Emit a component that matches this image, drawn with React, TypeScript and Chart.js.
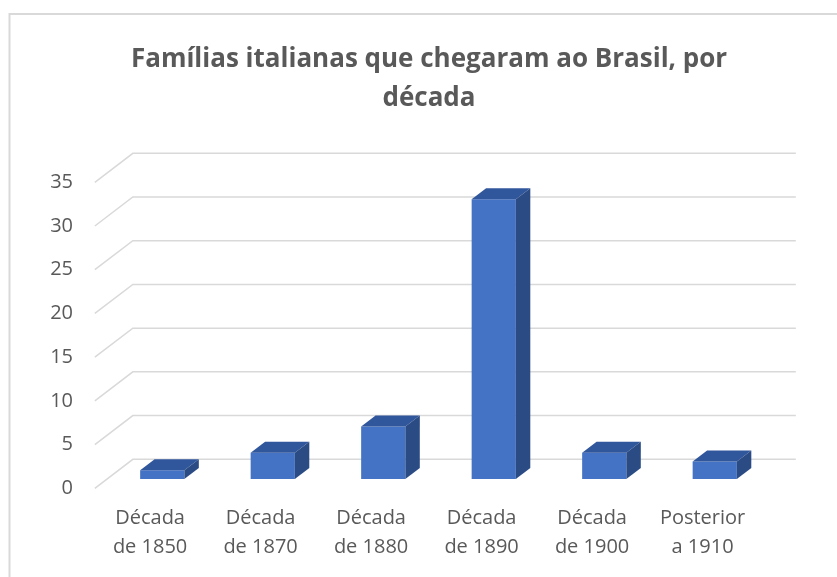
import React, { useEffect, useRef } from "react";
import { Chart, registerables } from "chart.js";

Chart.register(...registerables);

const titleLines = ["Famílias italianas que chegaram ao Brasil, por", "década"];
const categories = [
  ["Década", "de 1850"],
  ["Década", "de 1870"],
  ["Década", "de 1880"],
  ["Década", "de 1890"],
  ["Década", "de 1900"],
  ["Posterior", "a 1910"],
];
const values = [1, 3, 6, 32, 3, 2];
const yMin = 0;
const yMax = 35;
const yStep = 5;

const DEPTH_X = 38;
const DEPTH_Y = 29;
const FRONT_FRAC = 0.32;
const BAR_FRAC = 0.38;

const FRONT_COLOR = "#4472C4";
const TOP_COLOR = "#30569C";
const SIDE_COLOR = "#2B4B84";
const GRID_COLOR = "#d9d9d9";
const TEXT_COLOR = "#595959";
const FONT = '"Open Sans", "Noto Sans", sans-serif';

const threeDPlugin = {
  id: "threeD",
  beforeDatasetsDraw(chart: any) {
    const ctx = chart.ctx;
    const area = chart.chartArea;
    const ys = chart.scales.y;
    const xs = chart.scales.x;
    ctx.save();
    // frame
    ctx.strokeStyle = GRID_COLOR;
    ctx.lineWidth = 2;
    ctx.beginPath();
    ctx.moveTo(9.5, 577);
    ctx.lineTo(9.5, 14);
    ctx.lineTo(837, 14);
    ctx.stroke();

    // title
    ctx.fillStyle = TEXT_COLOR;
    ctx.font = `bold 26px ${FONT}`;
    ctx.textAlign = "center";
    ctx.textBaseline = "alphabetic";
    titleLines.forEach((t, i) => ctx.fillText(t, 429, 67 + i * 39));

    // gridlines
    const fdx = FRONT_FRAC * DEPTH_X;
    const fdy = FRONT_FRAC * DEPTH_Y;
    const bdx = (1 - FRONT_FRAC) * DEPTH_X;
    const bdy = (1 - FRONT_FRAC) * DEPTH_Y;
    ctx.strokeStyle = GRID_COLOR;
    ctx.lineWidth = 1.5;
    ys.ticks.forEach((tk: any) => {
      const y = ys.getPixelForValue(tk.value);
      ctx.beginPath();
      ctx.moveTo(area.left - fdx, y + fdy);
      ctx.lineTo(area.left + bdx, y - bdy);
      ctx.lineTo(area.right + bdx, y - bdy);
      ctx.stroke();
    });

    // y labels
    ctx.fillStyle = TEXT_COLOR;
    ctx.font = `20px ${FONT}`;
    ctx.textAlign = "right";
    ctx.textBaseline = "middle";
    ys.ticks.forEach((tk: any) => {
      const y = ys.getPixelForValue(tk.value);
      ctx.fillText(String(tk.value), 73, y + fdy);
    });

    // x labels
    ctx.textAlign = "center";
    categories.forEach((lines, i) => {
      const x = xs.getPixelForValue(i) - fdx;
      lines.forEach((l, j) => ctx.fillText(l, x, 518 + j * 29.5));
    });
    ctx.restore();
  },
  afterDatasetsDraw(chart: any) {
    const ctx = chart.ctx;
    const meta = chart.getDatasetMeta(0);
    const dx = BAR_FRAC * DEPTH_X;
    const dy = BAR_FRAC * DEPTH_Y;
    ctx.save();
    meta.data.forEach((bar: any) => {
      const { x, y, base, width } = bar.getProps(["x", "y", "base", "width"], true);
      const l = x - width / 2;
      const r = x + width / 2;
      // top face
      ctx.fillStyle = TOP_COLOR;
      ctx.beginPath();
      ctx.moveTo(l, y);
      ctx.lineTo(r, y);
      ctx.lineTo(r + dx, y - dy);
      ctx.lineTo(l + dx, y - dy);
      ctx.closePath();
      ctx.fill();
      // side face
      ctx.fillStyle = SIDE_COLOR;
      ctx.beginPath();
      ctx.moveTo(r, y);
      ctx.lineTo(r + dx, y - dy);
      ctx.lineTo(r + dx, base - dy);
      ctx.lineTo(r, base);
      ctx.closePath();
      ctx.fill();
    });
    ctx.restore();
  },
};

export default function App() {
  const ref = useRef<HTMLCanvasElement | null>(null);
  useEffect(() => {
    if (!ref.current) return;
    const chart = new Chart(ref.current, {
      type: "bar",
      data: {
        labels: categories.map((c) => c.join(" ")),
        datasets: [
          {
            data: values,
            backgroundColor: FRONT_COLOR,
            borderWidth: 0,
            barPercentage: 0.4,
            categoryPercentage: 1,
          },
        ],
      },
      options: {
        responsive: false,
        animation: false,
        layout: { padding: { left: 107, right: 67, top: 173, bottom: 98 } },
        plugins: { legend: { display: false }, title: { display: false }, tooltip: { enabled: false } },
        scales: {
          x: { display: false },
          y: { display: false, min: yMin, max: yMax, ticks: { stepSize: yStep } },
        },
      },
      plugins: [threeDPlugin],
    });
    return () => chart.destroy();
  }, []);
  return (
    <div style={{ position: "absolute", left: 0, top: 0, width: 837, height: 577, background: "#fff" }}>
      <canvas ref={ref} width={837} height={577} />
    </div>
  );
}
